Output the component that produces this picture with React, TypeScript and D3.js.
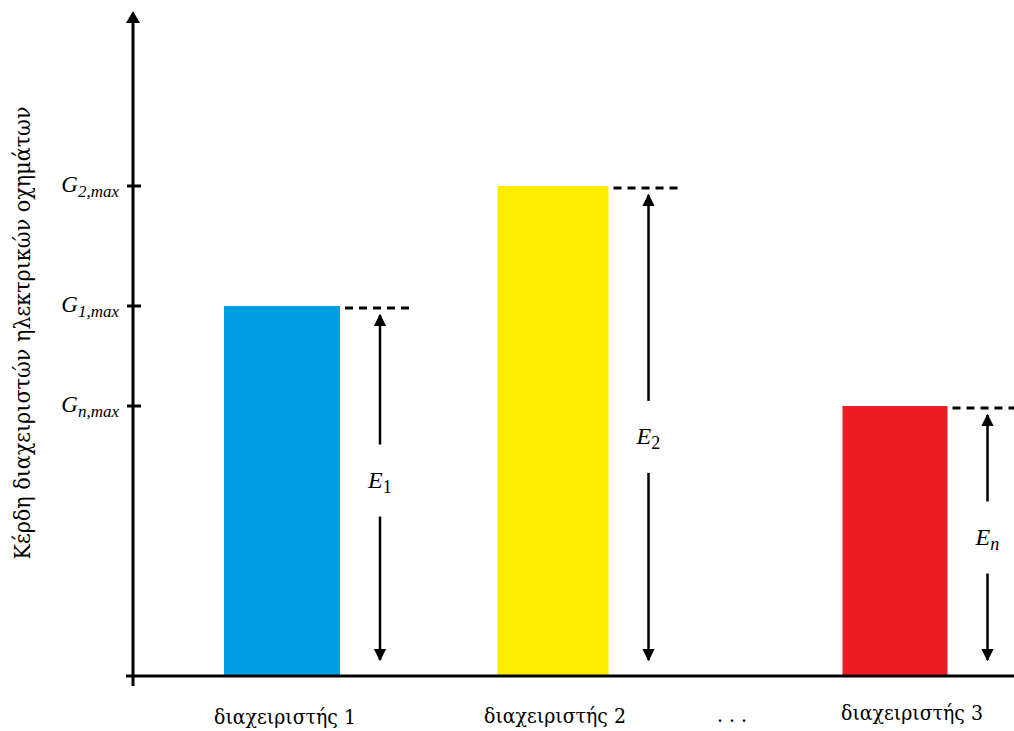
import React from "react";
import * as d3 from "d3";

const categories = ["διαχειριστής 1", "διαχειριστής 2", "διαχειριστής 3"];
const values = [3.7, 4.9, 2.7];
const colors = ["#009FE3", "#FFED00", "#ED1C24"];
const tickBases = ["1", "2", "n"];
const tickValues = [3.7, 4.9, 2.7];
const energyLabels = ["1", "2", "n"];
const yTitle = "Κέρδη διαχειριστών ηλεκτρικών οχημάτων";

const W = 1014, H = 731;
const baseY = 676;
const axisX = 133;
const greekFont = "'DejaVu Serif Condensed', 'DejaVu Serif', serif";
const mathFont = "'Liberation Serif', serif";

export default function App() {
  const y = d3.scaleLinear().domain([0, 6.62]).range([baseY, 14]);
  const xCenter = d3.scaleOrdinal<string, number>().domain([...categories, "…"]).range([282, 553, 895, 735]);
  const labelX = d3.scaleOrdinal<string, number>().domain([...categories, "…"]).range([285, 555, 912, 735]);
  const barW = d3.scaleOrdinal<string, number>().domain(categories).range([116, 111, 105]);
  const labelY = [724, 723, 720];
  const eLabelOffset = [0.48, 0.52, 0.5];

  return (
    <svg width={W} height={H} style={{ position: "absolute", left: 0, top: 0, background: "#fff" }}>
      <defs>
        <marker id="ah" viewBox="0 0 10 10" refX="9" refY="5" markerWidth="5" markerHeight="5" orient="auto-start-reverse" markerUnits="strokeWidth">
          <path d="M0,0 L10,5 L0,10 Z" fill="#000" />
        </marker>
      </defs>
      {categories.map((c, i) => {
        const w = barW(c);
        const x0 = xCenter(c) - w / 2;
        return <rect key={c} x={x0} y={y(values[i])} width={w} height={baseY - y(values[i])} fill={colors[i]} />;
      })}
      {categories.map((c, i) => {
        const w = barW(c);
        const x1 = xCenter(c) + w / 2;
        const yt = y(values[i]) + 2;
        const ax = x1 + 40;
        const top = yt + 5;
        const bot = baseY - 14;
        const mid = top + (bot - top) * eLabelOffset[i];
        const gap = 36;
        const sub = energyLabels[i];
        const isLetter = sub === "n";
        return (
          <g key={"a" + c}>
            <line x1={x1 + 5} x2={Math.min(x1 + 72, W)} y1={yt} y2={yt} stroke="#000" strokeWidth={3} strokeDasharray="8,6" />
            <line x1={ax} x2={ax} y1={mid - gap} y2={top + 2} stroke="#000" strokeWidth={2.5} markerEnd="url(#ah)" />
            <line x1={ax} x2={ax} y1={mid + gap} y2={bot - 2} stroke="#000" strokeWidth={2.5} markerEnd="url(#ah)" />
            <text x={ax - 12} y={mid + 7} fontFamily={mathFont} fontStyle="italic" fontSize={24} fill="#000">
              E<tspan fontSize={18} dy={5} fontStyle={isLetter ? "italic" : "normal"}>{sub}</tspan>
            </text>
          </g>
        );
      })}
      <line x1={axisX} x2={axisX} y1={22} y2={686} stroke="#000" strokeWidth={3} />
      <path d={`M${axisX - 7},23 L${axisX},11 L${axisX + 7},23 Z`} fill="#000" />
      <line x1={126} x2={W} y1={baseY} y2={baseY} stroke="#000" strokeWidth={3} />
      {tickValues.map((v, i) => (
        <g key={"t" + i}>
          <line x1={127} x2={141} y1={y(v)} y2={y(v)} stroke="#000" strokeWidth={3} />
          <text x={119} y={y(v) + 6} textAnchor="end" fontFamily={mathFont} fontStyle="italic" fontSize={23} fill="#000">
            G<tspan fontSize={17} dy={5}>{tickBases[i]},max</tspan>
          </text>
        </g>
      ))}
      {categories.map((c, i) => (
        <text key={"l" + c} x={labelX(c)} y={labelY[i]} textAnchor="middle" fontFamily={greekFont} fontSize={21} fill="#000">{c}</text>
      ))}
      <text x={labelX("…")} y={722} textAnchor="middle" fontFamily={greekFont} fontSize={21} letterSpacing={6} fill="#000">...</text>
      <text transform={`translate(30,333) rotate(-90)`} textAnchor="middle" fontFamily={greekFont} fontSize={23} fill="#000">{yTitle}</text>
    </svg>
  );
}
